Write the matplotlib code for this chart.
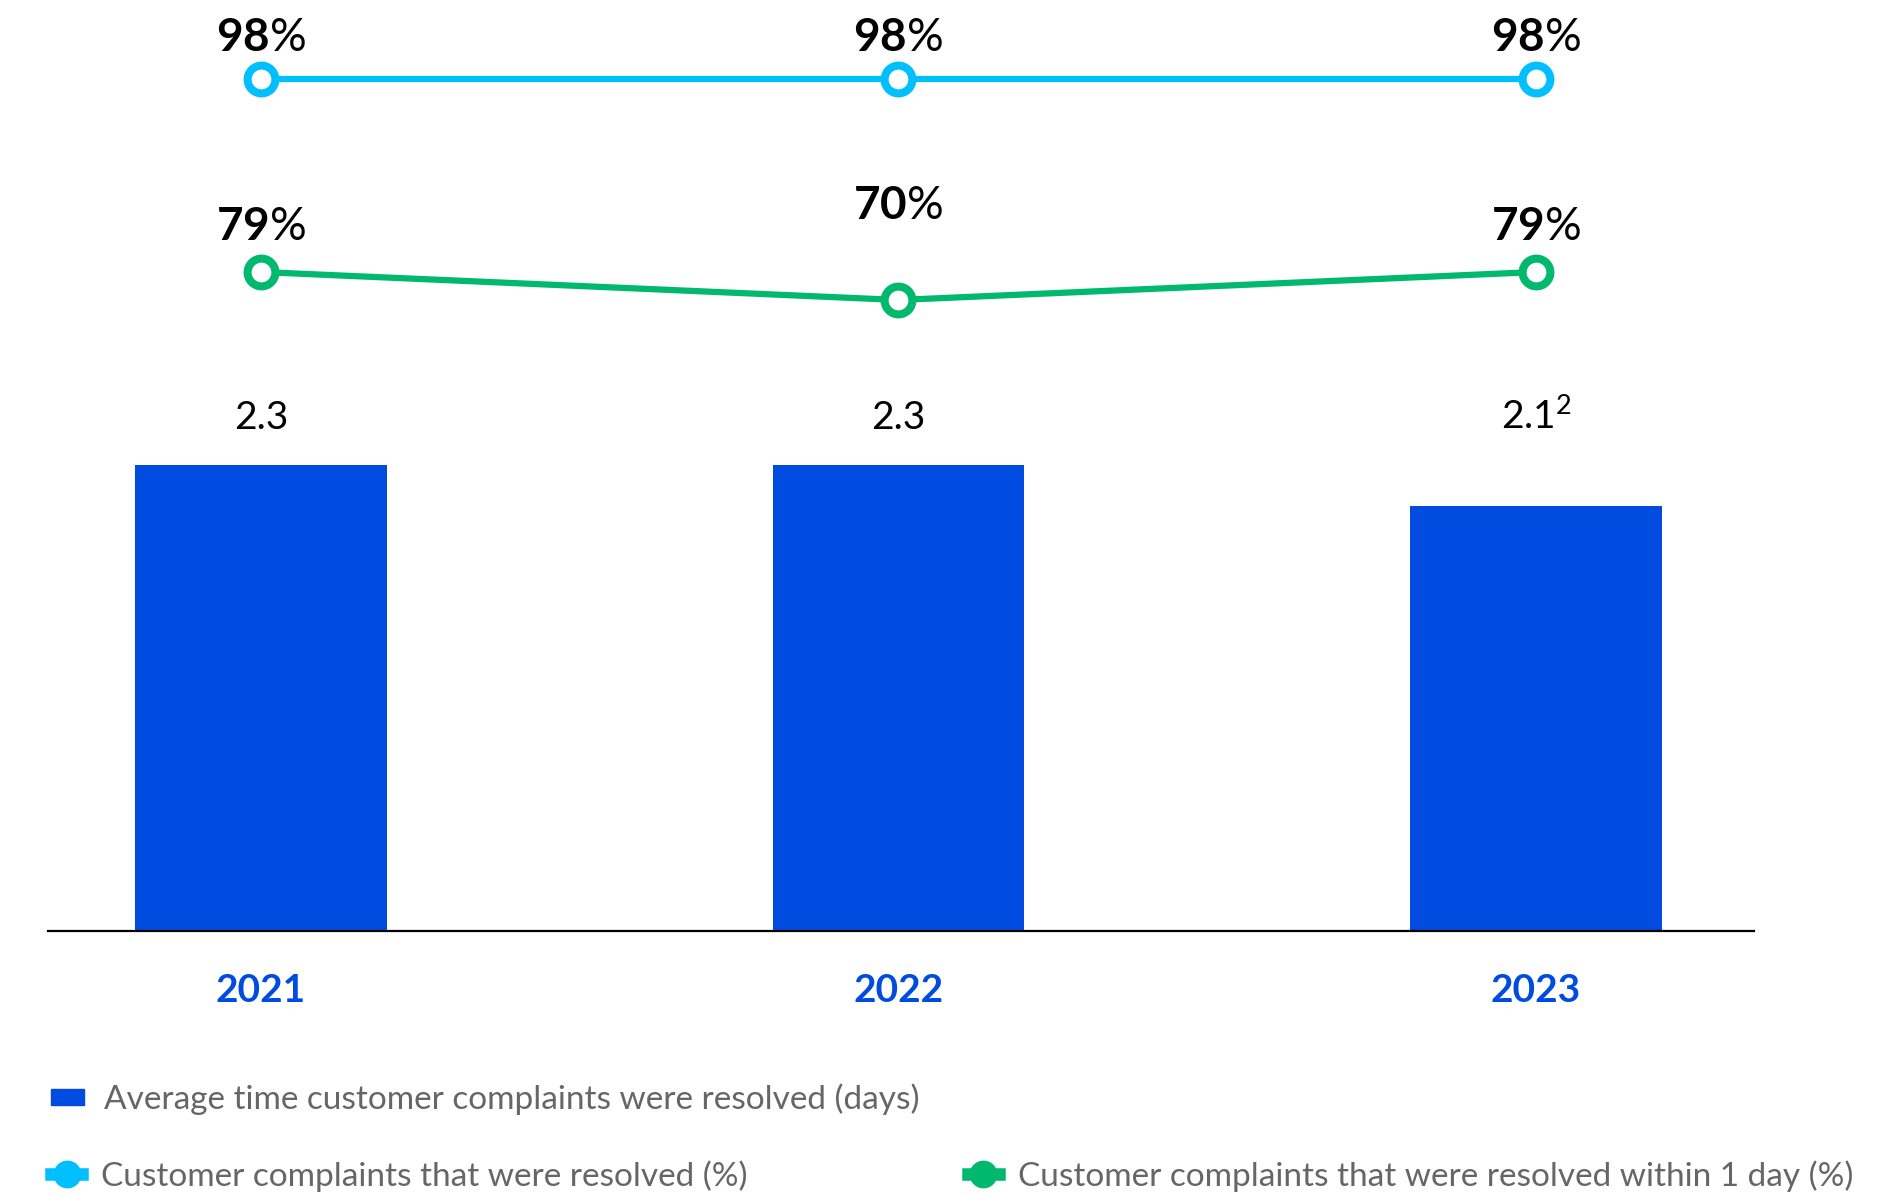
import matplotlib
matplotlib.use("Agg")
import matplotlib.pyplot as plt
from matplotlib.patches import Patch
from matplotlib.lines import Line2D

# Data
years = ["2021", "2022", "2023"]
avg_days = [2.3, 2.3, 2.1]
avg_days_labels = ["2.3", "2.3", "2.1$^{2}$"]
resolved_pct = [98, 98, 98]
resolved_1day_pct = [79, 70, 79]

# Colours
BAR_BLUE = "#004BE0"
LINE_BLUE = "#00BFFF"
LINE_GREEN = "#00B86E"
LEGEND_GREY = "#666666"

plt.rcParams["font.family"] = ["Lato", "DejaVu Sans"]
plt.rcParams["mathtext.fontset"] = "custom"
plt.rcParams["mathtext.bf"] = "Lato:bold"
plt.rcParams["mathtext.rm"] = "Lato"
plt.rcParams["mathtext.it"] = "Lato"

W, H = 1890, 1195
fig = plt.figure(figsize=(W / 100, H / 100), dpi=100)


def rect(left, top, right, bottom):
    """Pixel box (from top-left) -> figure-fraction rectangle."""
    return [left / W, 1 - bottom / H, (right - left) / W, (bottom - top) / H]


x = list(range(len(years)))
xlim = (-0.334, 2.342)

# Bars: average resolution time
ax = fig.add_axes(rect(48, 465, 1754, 931))
ax.bar(x, avg_days, width=0.395, color=BAR_BLUE, zorder=2)
ax.set_xlim(*xlim)
ax.set_ylim(0, 2.3)
for s in ["top", "right", "left"]:
    ax.spines[s].set_visible(False)
ax.spines["bottom"].set_linewidth(1.6)
ax.spines["bottom"].set_color("black")
ax.set_yticks([])
ax.set_xticks(x, years)
ax.tick_params(axis="x", length=0, pad=30, labelsize=28, labelcolor=BAR_BLUE)
for lbl in ax.get_xticklabels():
    lbl.set_fontweight("bold")

label_y = max(avg_days)
for xi, txt in zip(x, avg_days_labels):
    ax.annotate(txt, (xi, label_y), xytext=(0, 26), textcoords="offset points",
                ha="center", va="baseline", fontsize=28, color="black",
                annotation_clip=False)


def pct_line(box, ylim, values, color, offsets):
    a = fig.add_axes(rect(*box))
    a.set_xlim(*xlim)
    a.set_ylim(*ylim)
    a.axis("off")
    a.plot(x, values, color=color, lw=4.5, marker="o", ms=20, mfc="white",
           mec=color, mew=5.8, clip_on=False, solid_capstyle="round")
    for xi, v, off in zip(x, values, offsets):
        a.annotate(f"$\\mathbf{{{v}}}$%", (xi, v), xytext=(0, off),
                   textcoords="offset points", ha="center", va="baseline",
                   fontsize=33, fontweight="normal", color="black",
                   annotation_clip=False)
    return a


pct_line((48, 40, 1754, 120), (84.8, 110.5), resolved_pct, LINE_BLUE, [20, 20, 20])
pct_line((48, 240, 1754, 330), (60.35, 89.29), resolved_1day_pct, LINE_GREEN, [23, 58, 23])

# Legend
leg_kw = dict(frameon=False, borderpad=0, borderaxespad=0, fontsize=24,
              labelcolor=LEGEND_GREY, loc="center left", handletextpad=0.58)

fig.legend(handles=[Patch(color=BAR_BLUE,
                          label="Average time customer complaints were resolved (days)")],
           bbox_to_anchor=(51 / W, 1 - 1099 / H), handlelength=1.0,
           handleheight=0.36, **leg_kw)


def blob(color, label):
    return Line2D([], [], color=color, lw=9, marker="o", ms=19, mfc=color,
                  mec=color, label=label)


fig.legend(handles=[blob(LINE_BLUE, "Customer complaints that were resolved (%)")],
           bbox_to_anchor=(51 / W, 1 - 1176 / H), handlelength=0.93, **leg_kw)
fig.legend(handles=[blob(LINE_GREEN, "Customer complaints that were resolved within 1 day (%)")],
           bbox_to_anchor=(968 / W, 1 - 1176 / H), handlelength=0.93, **leg_kw)

fig.savefig("out.png", dpi=100, facecolor="white")
